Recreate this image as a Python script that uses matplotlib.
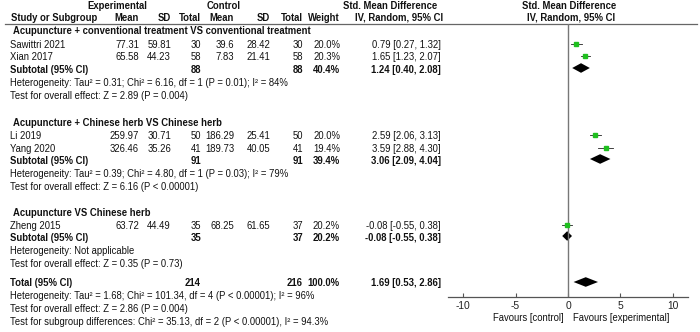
import matplotlib
matplotlib.use("Agg")
import matplotlib.pyplot as plt

plt.rcParams['font.family'] = ['Liberation Sans', 'DejaVu Sans']

# -----------------------------
# DATA
# -----------------------------
groups = [
    "Acupuncture + conventional treatment VS conventional treatment",
    "Acupuncture + Chinese herb VS Chinese herb",
    "Acupuncture VS Chinese herb",
]
studies = ["Sawittri 2021", "Xian 2017", "Li 2019", "Yang 2020", "Zheng 2015"]
study_group = [0, 0, 1, 1, 2]
exp_mean = [77.31, 65.58, 259.97, 326.46, 63.72]
exp_sd = [59.81, 44.23, 30.71, 35.26, 44.49]
exp_n = [30, 58, 50, 41, 35]
ctl_mean = [39.6, 7.83, 186.29, 189.73, 68.25]
ctl_sd = [28.42, 21.41, 25.41, 40.05, 61.65]
ctl_n = [30, 58, 50, 41, 37]
weight = [20.0, 20.3, 20.0, 19.4, 20.2]
smd = [0.79, 1.65, 2.59, 3.59, -0.08]
smd_lo = [0.27, 1.23, 2.06, 2.88, -0.55]
smd_hi = [1.32, 2.07, 3.13, 4.30, 0.38]

sub_exp_n = [88, 91, 35]
sub_ctl_n = [88, 91, 37]
sub_weight = [40.4, 39.4, 20.2]
sub_smd = [1.24, 3.06, -0.08]
sub_lo = [0.40, 2.09, -0.55]
sub_hi = [2.08, 4.04, 0.38]
sub_het = [
    "Heterogeneity: Tau\u00b2 = 0.31; Chi\u00b2 = 6.16, df = 1 (P = 0.01); I\u00b2 = 84%",
    "Heterogeneity: Tau\u00b2 = 0.39; Chi\u00b2 = 4.80, df = 1 (P = 0.03); I\u00b2 = 79%",
    "Heterogeneity: Not applicable",
]
sub_test = [
    "Test for overall effect: Z = 2.89 (P = 0.004)",
    "Test for overall effect: Z = 6.16 (P < 0.00001)",
    "Test for overall effect: Z = 0.35 (P = 0.73)",
]

tot_exp_n = 214
tot_ctl_n = 216
tot_weight = 100.0
tot_smd, tot_lo, tot_hi = 1.69, 0.53, 2.86
tot_notes = [
    "Heterogeneity: Tau\u00b2 = 1.68; Chi\u00b2 = 101.34, df = 4 (P < 0.00001); I\u00b2 = 96%",
    "Test for overall effect: Z = 2.86 (P = 0.004)",
    "Test for subgroup differences: Chi\u00b2 = 35.13, df = 2 (P < 0.00001), I\u00b2 = 94.3%",
]

xticks = [-10, -5, 0, 5, 10]

# -----------------------------
# LAYOUT (pixel coords)
# -----------------------------
W, H = 700, 332
fs = 6.85
col_x = {"mean1": 139, "sd1": 171, "n1": 201, "mean2": 234, "sd2": 270,
         "n2": 303, "w": 340, "ci": 441}
group_y = [31, 123, 213]
study_y = [45, 57, 136, 149, 226]
sub_y = [70, 161, 238]
total_y = 283
green = "#1fbf1f"

fig = plt.figure(figsize=(W / 100, H / 100), dpi=100)
ax = fig.add_axes([0, 0, 1, 1])
ax.set_xlim(0, W)
ax.set_ylim(H, 0)
ax.axis("off")

def txt(x, y, s, ha="left", bold=False):
    ax.text(x, y, s, ha=ha, va="center", fontsize=fs,
            fontweight="bold" if bold else "normal", color="#111111")

def ci_str(m, lo, hi):
    return f"{m:.2f} [{lo:.2f}, {hi:.2f}]"

# headers
txt(117, 6, "Experimental", ha="center", bold=True)
txt(224, 6, "Control", ha="center", bold=True)
txt(390, 6, "Std. Mean Difference", ha="center", bold=True)
txt(569, 6, "Std. Mean Difference", ha="center", bold=True)
txt(11, 18, "Study or Subgroup", bold=True)
for key, s in [("mean1", "Mean"), ("sd1", "SD"), ("n1", "Total"),
               ("mean2", "Mean"), ("sd2", "SD"), ("n2", "Total"),
               ("w", "Weight")]:
    txt(col_x[key], 18, s, ha="right", bold=True)
txt(399, 18, "IV, Random, 95% CI", ha="center", bold=True)
txt(571, 18, "IV, Random, 95% CI", ha="center", bold=True)
ax.plot([5, 697], [24, 24], color="#666666", lw=0.9)

# table body
for g in range(len(groups)):
    txt(13, group_y[g], groups[g], bold=True)
for i in range(len(studies)):
    y = study_y[i]
    txt(10, y, studies[i])
    txt(col_x["mean1"], y, str(exp_mean[i]), ha="right")
    txt(col_x["sd1"], y, str(exp_sd[i]), ha="right")
    txt(col_x["n1"], y, str(exp_n[i]), ha="right")
    txt(col_x["mean2"], y, str(ctl_mean[i]), ha="right")
    txt(col_x["sd2"], y, str(ctl_sd[i]), ha="right")
    txt(col_x["n2"], y, str(ctl_n[i]), ha="right")
    txt(col_x["w"], y, f"{weight[i]:.1f}%", ha="right")
    txt(col_x["ci"], y, ci_str(smd[i], smd_lo[i], smd_hi[i]), ha="right")
for g in range(len(groups)):
    y = sub_y[g]
    txt(10, y, "Subtotal (95% CI)", bold=True)
    txt(col_x["n1"], y, str(sub_exp_n[g]), ha="right", bold=True)
    txt(col_x["n2"], y, str(sub_ctl_n[g]), ha="right", bold=True)
    txt(col_x["w"], y, f"{sub_weight[g]:.1f}%", ha="right", bold=True)
    txt(col_x["ci"], y, ci_str(sub_smd[g], sub_lo[g], sub_hi[g]), ha="right", bold=True)
    txt(10, y + 13, sub_het[g])
    txt(10, y + 26, sub_test[g])

txt(10, total_y, "Total (95% CI)", bold=True)
txt(col_x["n1"], total_y, str(tot_exp_n), ha="right", bold=True)
txt(col_x["n2"], total_y, str(tot_ctl_n), ha="right", bold=True)
txt(col_x["w"], total_y, f"{tot_weight:.1f}%", ha="right", bold=True)
txt(col_x["ci"], total_y, ci_str(tot_smd, tot_lo, tot_hi), ha="right", bold=True)
for k, s in enumerate(tot_notes):
    txt(10, total_y + 13 * (k + 1), s)

# -----------------------------
# FOREST PANEL
# -----------------------------
x0, x1, ytop, ybot = 448, 688, 24, 297
fx = fig.add_axes([x0 / W, (H - ybot) / H, (x1 - x0) / W, (ybot - ytop) / H])
fx.set_xlim(-11.43, 11.43)
fx.set_ylim(ybot, ytop)
fx.patch.set_alpha(0)
for sp in ["top", "left", "right"]:
    fx.spines[sp].set_visible(False)
fx.spines["bottom"].set_color("#555555")
fx.spines["bottom"].set_linewidth(0.9)
fx.axvline(0, color="#777777", lw=1.0)
fx.set_yticks([])
fx.set_xticks(xticks)
fx.set_xticklabels([str(t) for t in xticks])
fx.tick_params(axis="x", direction="in", length=3, width=0.8, color="#555555",
               labelsize=fs + 0.5, pad=3, labelcolor="#222222")

for i in range(len(studies)):
    y = study_y[i] - 1.5
    fx.plot([smd_lo[i], smd_hi[i]], [y, y], color="#222222", lw=0.6)
    fx.plot(smd[i], y, marker="s", ms=2.9, color=green, mec=green, lw=0)

def diamond(m, lo, hi, y, h=4.8):
    fx.fill([lo, m, hi, m], [y, y - h, y, y + h], color="black", lw=0)

for g in range(len(groups)):
    diamond(sub_smd[g], sub_lo[g], sub_hi[g], sub_y[g] - 2)
diamond(tot_smd, tot_lo, tot_hi, total_y - 1)

txt(564, 318, "Favours [control]", ha="right")
txt(573, 318, "Favours [experimental]")

fig.savefig("out.png", dpi=100)
plt.close(fig)
